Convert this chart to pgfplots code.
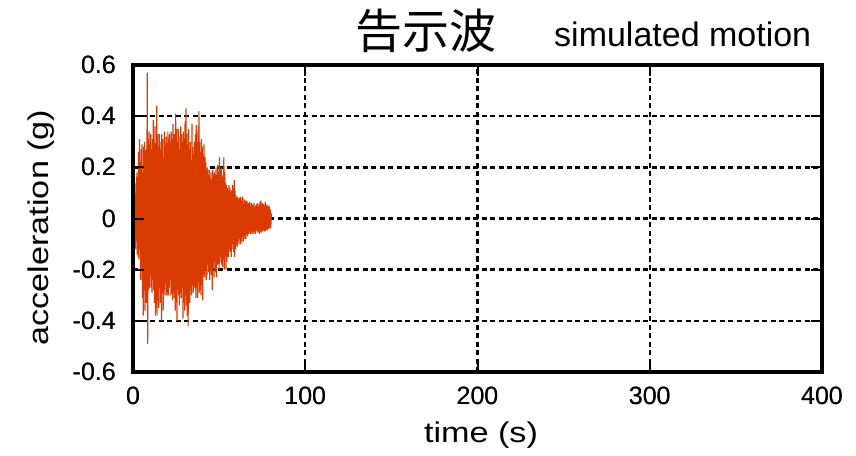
\documentclass[border=0pt]{standalone}
\usepackage{pgfplots}
\usepackage{pgfplotstable}
\pgfplotsset{compat=1.18}
\usepackage{fontspec}
\setmainfont{Liberation Sans}
\newfontfamily\labfont[FakeStretch=1.2]{Liberation Sans}
\newfontfamily\cjk{Noto Sans CJK JP}
\definecolor{sig}{RGB}{217,59,3}
\pgfplotstableread[row sep=\\]{
t a\\
0.00 0.00\\ 0.25 0.01\\ 0.50 -0.02\\ 0.75 0.04\\ 1.00 -0.06\\ 1.25 0.10\\ 1.50 -0.12\\ 1.75 0.14\\
2.00 -0.09\\ 2.25 0.18\\ 2.50 -0.14\\ 2.75 0.12\\ 3.00 -0.15\\ 3.25 0.26\\ 3.50 -0.16\\ 3.75 0.31\\
4.00 -0.12\\ 4.25 0.22\\ 4.50 -0.24\\ 4.75 0.27\\ 5.00 -0.20\\ 5.25 0.29\\ 5.50 -0.31\\ 5.75 0.18\\
6.00 -0.38\\ 6.25 0.28\\ 6.50 -0.26\\ 6.75 0.30\\ 7.00 -0.36\\ 7.25 0.24\\ 7.50 -0.33\\ 7.75 0.27\\
8.00 -0.29\\ 8.25 0.57\\ 8.50 -0.49\\ 8.75 0.31\\ 9.00 -0.28\\ 9.25 0.34\\ 9.50 -0.27\\ 9.75 0.29\\
10.00 -0.22\\ 10.25 0.33\\ 10.50 -0.27\\ 10.75 0.25\\ 11.00 -0.29\\ 11.25 0.31\\ 11.50 -0.24\\ 11.75 0.385\\
12.00 -0.28\\ 12.25 0.30\\ 12.50 -0.33\\ 12.75 0.36\\ 13.00 -0.38\\ 13.25 0.29\\ 13.50 -0.31\\ 13.75 0.44\\
14.00 -0.38\\ 14.25 0.33\\ 14.50 -0.30\\ 14.75 0.28\\ 15.00 -0.35\\ 15.25 0.33\\ 15.50 -0.27\\ 15.75 0.30\\
16.00 -0.33\\ 16.25 0.26\\ 16.50 -0.40\\ 16.75 0.33\\ 17.00 -0.29\\ 17.25 0.31\\ 17.50 -0.36\\ 17.75 0.24\\
18.00 -0.28\\ 18.25 0.34\\ 18.50 -0.30\\ 18.75 0.29\\ 19.00 -0.25\\ 19.25 0.32\\ 19.50 -0.30\\ 19.75 0.27\\
20.00 -0.29\\ 20.25 0.34\\ 20.50 -0.30\\ 20.75 0.25\\ 21.00 -0.27\\ 21.25 0.33\\ 21.50 -0.24\\ 21.75 0.30\\
22.00 -0.30\\ 22.25 0.34\\ 22.50 -0.28\\ 22.75 0.31\\ 23.00 -0.32\\ 23.25 0.37\\ 23.50 -0.29\\ 23.75 0.33\\
24.00 -0.31\\ 24.25 0.28\\ 24.50 -0.36\\ 24.75 0.41\\ 25.00 -0.33\\ 25.25 0.35\\ 25.50 -0.40\\ 25.75 0.30\\
26.00 -0.28\\ 26.25 0.35\\ 26.50 -0.30\\ 26.75 0.32\\ 27.00 -0.34\\ 27.25 0.27\\ 27.50 -0.29\\ 27.75 0.36\\
28.00 -0.31\\ 28.25 0.33\\ 28.50 -0.27\\ 28.75 0.30\\ 29.00 -0.39\\ 29.25 0.34\\ 29.50 -0.33\\ 29.75 0.29\\
30.00 -0.36\\ 30.25 0.38\\ 30.50 -0.30\\ 30.75 0.43\\ 31.00 -0.34\\ 31.25 0.33\\ 31.50 -0.38\\ 31.75 0.29\\
32.00 -0.42\\ 32.25 0.35\\ 32.50 -0.30\\ 32.75 0.27\\ 33.00 -0.33\\ 33.25 0.30\\ 33.50 -0.28\\ 33.75 0.23\\
34.00 -0.30\\ 34.25 0.37\\ 34.50 -0.26\\ 34.75 0.28\\ 35.00 -0.29\\ 35.25 0.25\\ 35.50 -0.27\\ 35.75 0.30\\
36.00 -0.24\\ 36.25 0.33\\ 36.50 -0.31\\ 36.75 0.365\\ 37.00 -0.27\\ 37.25 0.30\\ 37.50 -0.31\\ 37.75 0.34\\
38.00 -0.25\\ 38.25 0.42\\ 38.50 -0.29\\ 38.75 0.30\\ 39.00 -0.28\\ 39.25 0.26\\ 39.50 -0.30\\ 39.75 0.31\\
40.00 -0.26\\ 40.25 0.28\\ 40.50 -0.32\\ 40.75 0.25\\ 41.00 -0.22\\ 41.25 0.29\\ 41.50 -0.23\\ 41.75 0.24\\
42.00 -0.20\\ 42.25 0.22\\ 42.50 -0.24\\ 42.75 0.19\\ 43.00 -0.22\\ 43.25 0.20\\ 43.50 -0.18\\ 43.75 0.17\\
44.00 -0.21\\ 44.25 0.19\\ 44.50 -0.24\\ 44.75 0.16\\ 45.00 -0.20\\ 45.25 0.18\\ 45.50 -0.22\\ 45.75 0.15\\
46.00 -0.28\\ 46.25 0.19\\ 46.50 -0.19\\ 46.75 0.17\\ 47.00 -0.23\\ 47.25 0.18\\ 47.50 -0.17\\ 47.75 0.16\\
48.00 -0.21\\ 48.25 0.20\\ 48.50 -0.23\\ 48.75 0.17\\ 49.00 -0.18\\ 49.25 0.21\\ 49.50 -0.16\\ 49.75 0.18\\
50.00 -0.20\\ 50.25 0.24\\ 50.50 -0.17\\ 50.75 0.19\\ 51.00 -0.15\\ 51.25 0.20\\ 51.50 -0.18\\ 51.75 0.17\\
52.00 -0.19\\ 52.25 0.15\\ 52.50 -0.16\\ 52.75 0.24\\ 53.00 -0.20\\ 53.25 0.18\\ 53.50 -0.15\\ 53.75 0.14\\
54.00 -0.20\\ 54.25 0.13\\ 54.50 -0.17\\ 54.75 0.12\\ 55.00 -0.14\\ 55.25 0.11\\ 55.50 -0.15\\ 55.75 0.13\\
56.00 -0.12\\ 56.25 0.12\\ 56.50 -0.13\\ 56.75 0.10\\ 57.00 -0.15\\ 57.25 0.11\\ 57.50 -0.12\\ 57.75 0.13\\
58.00 -0.10\\ 58.25 0.12\\ 58.50 -0.13\\ 58.75 0.15\\ 59.00 -0.15\\ 59.25 0.11\\ 59.50 -0.12\\ 59.75 0.09\\
60.00 -0.10\\ 60.25 0.08\\ 60.50 -0.11\\ 60.75 0.085\\ 61.00 -0.09\\ 61.25 0.07\\ 61.50 -0.10\\ 61.75 0.08\\
62.00 -0.08\\ 62.25 0.085\\ 62.50 -0.10\\ 62.75 0.07\\ 63.00 -0.09\\ 63.25 0.08\\ 63.50 -0.07\\ 63.75 0.085\\
64.00 -0.09\\ 64.25 0.06\\ 64.50 -0.08\\ 64.75 0.075\\ 65.00 -0.07\\ 65.25 0.07\\ 65.50 -0.08\\ 65.75 0.06\\
66.00 -0.06\\ 66.25 0.07\\ 66.50 -0.07\\ 66.75 0.05\\ 67.00 -0.06\\ 67.25 0.06\\ 67.50 -0.05\\ 67.75 0.065\\
68.00 -0.06\\ 68.25 0.05\\ 68.50 -0.06\\ 68.75 0.06\\ 69.00 -0.05\\ 69.25 0.055\\ 69.50 -0.06\\ 69.75 0.05\\
70.00 -0.055\\ 70.25 0.06\\ 70.50 -0.05\\ 70.75 0.045\\ 71.00 -0.06\\ 71.25 0.05\\ 71.50 -0.045\\ 71.75 0.055\\
72.00 -0.05\\ 72.25 0.06\\ 72.50 -0.055\\ 72.75 0.045\\ 73.00 -0.05\\ 73.25 0.055\\ 73.50 -0.06\\ 73.75 0.065\\
74.00 -0.05\\ 74.25 0.07\\ 74.50 -0.055\\ 74.75 0.05\\ 75.00 -0.045\\ 75.25 0.06\\ 75.50 -0.05\\ 75.75 0.055\\
76.00 -0.045\\ 76.25 0.05\\ 76.50 -0.05\\ 76.75 0.065\\ 77.00 -0.05\\ 77.25 0.05\\ 77.50 -0.04\\ 77.75 0.055\\
78.00 -0.045\\ 78.25 0.045\\ 78.50 -0.04\\ 78.75 0.05\\ 79.00 -0.04\\ 79.25 0.045\\ 79.50 -0.04\\ 79.75 0.035\\
80.00 -0.035\\ 80.25 0.02\\ 80.50 0.00\\
}\sigdata
\pgfplotsset{
  frame/.style={
    at={(0,0)}, anchor=south west,
    scale only axis, width=689pt, height=307pt,
    xmin=0, xmax=400, ymin=-0.6, ymax=0.6,
    xtick={0,100,200,300,400}, xticklabels={0,100,200,300,400},
    ytick={-0.6,-0.4,-0.2,0,0.2,0.4,0.6},
    yticklabels={-0.6,-0.4,-0.2,0,0.2,0.4,0.6},
    axis line style={line width=3.5pt, black},
    tick style={line width=2pt, black},
    major tick length=11pt, tick align=inside,
    ticklabel style={font=\fontsize{25}{25}\selectfont, inner sep=0pt},
    yticklabel style={anchor=east, xshift=-17pt},
    xticklabel style={anchor=north, yshift=-15pt},
  }
}
\begin{document}
\begin{tikzpicture}
\begin{axis}[frame,
    grid=major,
    major grid style={black, line width=2.4pt, dash pattern=on 5pt off 3.5pt},
]
\addplot[color=sig, line width=1.2pt, line join=bevel] table[x=t, y=a] {\sigdata};
\end{axis}
\begin{axis}[frame, grid=none]
\end{axis}
\node[anchor=base, inner sep=0pt, font=\labfont\fontsize{28.5}{28.5}\selectfont] at (348pt,-70.7pt) {time (s)};
\node[anchor=base, rotate=90, inner sep=0pt, font=\labfont\fontsize{28.5}{28.5}\selectfont] at (-84pt,144.5pt) {acceleration (g)};
\node[anchor=base west, inner sep=0pt, font=\cjk\fontsize{47}{47}\selectfont] at (222.6pt,323.3pt) {告示波};
\node[anchor=base west, inner sep=0pt, font=\fontsize{34}{34}\selectfont] at (421pt,325pt) {simulated motion};
\pgfresetboundingbox
\path (-133pt,-83pt) rectangle (723pt,372pt);
\end{tikzpicture}
\end{document}
